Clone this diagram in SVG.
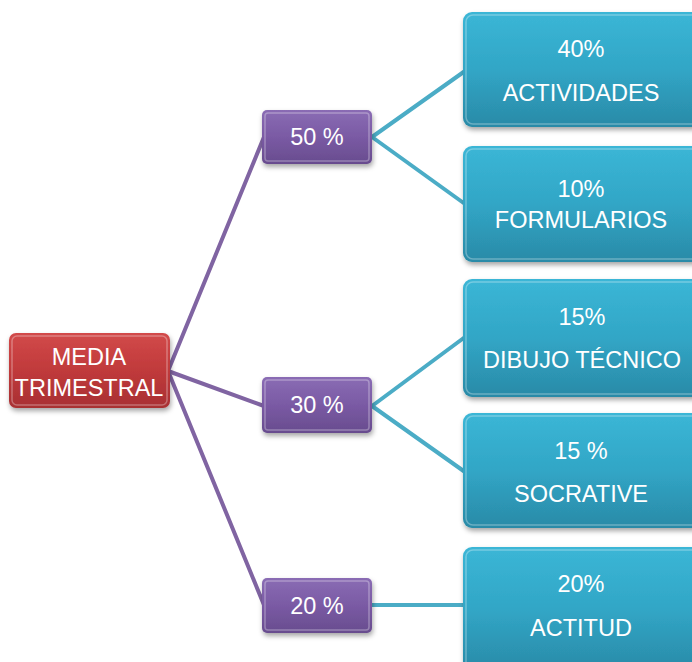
<svg xmlns="http://www.w3.org/2000/svg" width="692" height="662" viewBox="0 0 692 662">
<style>
.t{font-family:"Liberation Sans","Open Sans",Arial,sans-serif;font-size:23.5px;fill:#ffffff;text-anchor:middle}
.hl{fill:none;stroke:#ffffff;stroke-opacity:0.3;stroke-width:1.5}
</style>
<defs>
<linearGradient id="gb" x1="0" y1="0" x2="0" y2="1">
<stop offset="0" stop-color="#3bb6d6"/><stop offset="0.5" stop-color="#31a6c6"/><stop offset="1" stop-color="#2a8aa7"/>
</linearGradient>
<linearGradient id="gp" x1="0" y1="0" x2="0" y2="1">
<stop offset="0" stop-color="#8a6cb4"/><stop offset="0.5" stop-color="#7a5aa4"/><stop offset="1" stop-color="#684c8e"/>
</linearGradient>
<linearGradient id="gr" x1="0" y1="0" x2="0" y2="1">
<stop offset="0" stop-color="#d24a4a"/><stop offset="0.5" stop-color="#c03a3b"/><stop offset="1" stop-color="#a83033"/>
</linearGradient>
<filter id="sh" x="-10%" y="-10%" width="125%" height="130%">
<feDropShadow dx="1" dy="3" stdDeviation="2.5" flood-color="#000" flood-opacity="0.35"/>
</filter>
</defs>
<g id="connectors" fill="none" stroke-width="4" stroke-linecap="round">
<g stroke="#8064a2">
<line x1="168" y1="371" x2="264" y2="137"/>
<line x1="168" y1="371" x2="264" y2="406"/>
<line x1="168" y1="371" x2="264" y2="605"/>
</g>
<g stroke="#4bacc6">
<line x1="372" y1="137" x2="465" y2="71"/>
<line x1="372" y1="137" x2="465" y2="204"/>
<line x1="372" y1="406" x2="465" y2="337"/>
<line x1="372" y1="406" x2="465" y2="472"/>
<line x1="372" y1="605" x2="465" y2="605"/>
</g>
</g>
<g id="media">
<rect x="9" y="333" width="161" height="75" rx="7" fill="url(#gr)" filter="url(#sh)"/>
<rect x="12" y="336" width="155" height="69" rx="5" class="hl"/>
<text class="t" x="89" y="365">MEDIA</text>
<text class="t" x="89" y="396">TRIMESTRAL</text>
</g>
<g id="p50">
<rect x="262" y="110" width="110" height="54" rx="5" fill="url(#gp)" filter="url(#sh)"/>
<rect x="265" y="113" width="104" height="48" rx="3" class="hl"/>
<text class="t" x="317" y="145">50 %</text>
</g>
<g id="p30">
<rect x="262" y="377" width="110" height="56" rx="5" fill="url(#gp)" filter="url(#sh)"/>
<rect x="265" y="380" width="104" height="50" rx="3" class="hl"/>
<text class="t" x="317" y="413">30 %</text>
</g>
<g id="p20">
<rect x="262" y="578" width="110" height="55" rx="5" fill="url(#gp)" filter="url(#sh)"/>
<rect x="265" y="581" width="104" height="49" rx="3" class="hl"/>
<text class="t" x="317" y="614">20 %</text>
</g>
<g id="b1">
<rect x="463" y="12" width="240" height="115" rx="9" fill="url(#gb)" filter="url(#sh)"/>
<rect x="466" y="15" width="234" height="109" rx="7" class="hl"/>
<text class="t" x="581" y="57">40%</text>
<text class="t" x="581" y="101">ACTIVIDADES</text>
</g>
<g id="b2">
<rect x="463" y="146" width="240" height="116" rx="9" fill="url(#gb)" filter="url(#sh)"/>
<rect x="466" y="149" width="234" height="110" rx="7" class="hl"/>
<text class="t" x="581" y="197">10%</text>
<text class="t" x="581" y="228">FORMULARIOS</text>
</g>
<g id="b3">
<rect x="463" y="279" width="240" height="118" rx="9" fill="url(#gb)" filter="url(#sh)"/>
<rect x="466" y="282" width="234" height="112" rx="7" class="hl"/>
<text class="t" x="582" y="325">15%</text>
<text class="t" x="582" y="368">DIBUJO TÉCNICO</text>
</g>
<g id="b4">
<rect x="463" y="413" width="240" height="115" rx="9" fill="url(#gb)" filter="url(#sh)"/>
<rect x="466" y="416" width="234" height="109" rx="7" class="hl"/>
<text class="t" x="581" y="459">15 %</text>
<text class="t" x="581" y="502">SOCRATIVE</text>
</g>
<g id="b5">
<rect x="463" y="547" width="240" height="125" rx="9" fill="url(#gb)" filter="url(#sh)"/>
<rect x="466" y="550" width="234" height="119" rx="7" class="hl"/>
<text class="t" x="581" y="592">20%</text>
<text class="t" x="581" y="636">ACTITUD</text>
</g>
</svg>
